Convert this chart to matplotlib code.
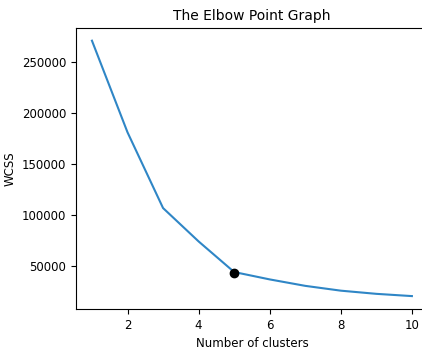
import matplotlib
matplotlib.use('Agg')
import matplotlib.pyplot as plt

# WCSS values for each number of clusters
clusters = [1, 2, 3, 4, 5, 6, 7, 8, 9, 10]
wcss = [270500, 181000, 107000, 74400, 44500, 37300, 31000, 26300, 23200, 21000]
elbow_k = 5
elbow_wcss = 44000

fig = plt.figure(figsize=(4.22, 3.49), dpi=100)
ax = fig.add_axes([0.180, 0.115, 0.834, 0.805])

ax.plot(clusters, wcss, color='#2f86c6', linewidth=1.5)
ax.plot(elbow_k, elbow_wcss, 'o', color='black', markersize=6)

ax.set_title('The Elbow Point Graph', fontsize=10)
ax.set_xlabel('Number of clusters', fontsize=8.5)
ax.set_ylabel('WCSS', fontsize=8.5)
ax.tick_params(labelsize=8.5)
ax.set_xticks([2, 4, 6, 8, 10])
ax.set_yticks([50000, 100000, 150000, 200000, 250000])

fig.savefig('out.png', dpi=100)
